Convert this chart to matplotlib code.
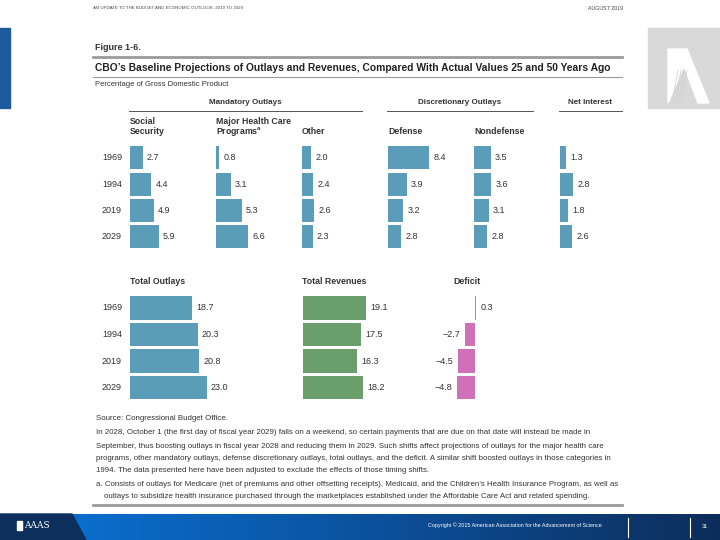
import numpy as np
import matplotlib
matplotlib.use("Agg")
import matplotlib.pyplot as plt
from matplotlib.patches import Rectangle, Polygon

plt.rcParams['font.family'] = ['Liberation Sans', 'DejaVu Sans']

years = ["1969", "1994", "2019", "2029"]

# percentage of GDP
social_security = [2.7, 4.4, 4.9, 5.9]
health_care = [0.8, 3.1, 5.3, 6.6]
other_mandatory = [2.0, 2.4, 2.6, 2.3]
defense = [8.4, 3.9, 3.2, 2.8]
nondefense = [3.5, 3.6, 3.1, 2.8]
net_interest = [1.3, 2.8, 1.8, 2.6]

total_outlays = [18.7, 20.3, 20.8, 23.0]
total_revenues = [19.1, 17.5, 16.3, 18.2]
deficit = [0.3, -2.7, -4.5, -4.8]

BLUE = "#5b9cb9"
GREEN = "#6a9f6b"
PINK = "#cf70b9"
TXT = "#333333"
GRAY = "#9a9a9a"

W, H = 720, 540
fig = plt.figure(figsize=(7.2, 5.4), dpi=100)

# page furniture drawn in pixel coordinates
bg = fig.add_axes([0, 0, 1, 1])
bg.set_xlim(0, W)
bg.set_ylim(H, 0)
bg.axis("off")


def px_axes(x0, y0, w, h):
    return fig.add_axes([x0 / W, 1 - (y0 + h) / H, w / W, h / H])


def bar_panel(x_zero, y_top, pitch, values, color, scale, left=0, width=90):
    ax = px_axes(x_zero - left, y_top, left + width, 4 * pitch)
    ax.set_xlim(-left / scale, width / scale)
    ax.set_ylim(3.5, -0.5)
    ax.barh(range(len(values)), values, height=0.87, color=color)
    for i, v in enumerate(values):
        lab = f"{v:.1f}".replace("-", "\u2212")
        if v >= 0:
            ax.annotate(lab, (v, i), xytext=(3, 0), textcoords="offset points",
                        ha="left", va="center", fontsize=6.5, color=TXT)
        else:
            ax.annotate(lab, (v, i), xytext=(-3, 0), textcoords="offset points",
                        ha="right", va="center", fontsize=6.5, color=TXT)
    ax.axis("off")
    return ax


# header strip
bg.text(93, 8, "AN UPDATE TO THE BUDGET AND ECONOMIC OUTLOOK: 2019 TO 2029",
        fontsize=3.2, color="#444444", va="center")
bg.text(623, 8, "AUGUST 2019", fontsize=3.8, color="#444444", va="center", ha="right")

# side decorations
bg.add_patch(Rectangle((0, 28), 10, 80, color="#1c5c9c"))
bg.add_patch(Rectangle((648, 28), 72, 80, color="#d9d9d9"))
bg.add_patch(Polygon([(668, 49), (687, 49), (709, 103), (698, 103), (684, 66), (668, 103)],
                     closed=True, color="white"))
for k in range(4):
    bg.plot([672 + 3 * k, 678 + 3 * k], [103, 70], color="#cccccc", lw=0.5)

# figure title block
bg.text(95, 47, "Figure 1-6.", fontsize=6.5, fontweight="bold", color=TXT, va="center")
bg.plot([93, 622], [57, 57], color=GRAY, lw=2)
bg.text(95, 68, "CBO\u2019s Baseline Projections of Outlays and Revenues, Compared With Actual Values 25 and 50 Years Ago",
        fontsize=7.4, fontweight="bold", color="#222222", va="center")
bg.plot([93, 622], [77, 77], color=GRAY, lw=0.8)
bg.text(95, 85, "Percentage of Gross Domestic Product", fontsize=5.5, color=TXT, va="center")

# group headers
for label, cx, x1, x2 in [("Mandatory Outlays", 245, 129, 362),
                          ("Discretionary Outlays", 460, 387, 533),
                          ("Net Interest", 590, 559, 622)]:
    bg.text(cx, 103, label, fontsize=5.8, fontweight="bold", color=TXT, ha="center", va="center")
    bg.plot([x1, x2], [111, 111], color="#555555", lw=0.7)

hdr = dict(fontsize=6.3, fontweight="bold", color=TXT, va="center")
bg.text(130, 121, "Social", **hdr)
bg.text(130, 131, "Security", **hdr)
bg.text(216, 121, "Major Health Care", **hdr)
bg.text(216, 131, "Programs$^{\\mathregular{a}}$", **hdr)
bg.text(302, 131, "Other", **hdr)
bg.text(388, 131, "Defense", **hdr)
bg.text(474, 131, "Nondefense", **hdr)

# top panel
top_pitch = 26.4
top_y = 144.5
top_scale = 4.95
top_cols = [social_security, health_care, other_mandatory, defense, nondefense, net_interest]
for k, vals in enumerate(top_cols):
    bar_panel(129.5 + 86 * k, top_y, top_pitch, vals, BLUE, top_scale, width=80)
for i, yr in enumerate(years):
    bg.text(102, top_y + top_pitch * (i + 0.5), yr, fontsize=6.5, color=TXT, va="center")

# bottom panel
bot_pitch = 26.5
bot_y = 294.75
bg.text(130, 282, "Total Outlays", **hdr)
bg.text(302, 282, "Total Revenues", **hdr)
bg.text(467, 282, "Deficit", ha="center", **hdr)
bar_panel(129.5, bot_y, bot_pitch, total_outlays, BLUE, 3.35, width=150)
bar_panel(302.5, bot_y, bot_pitch, total_revenues, GREEN, 3.35, width=150)
bar_panel(475, bot_y, bot_pitch, deficit, PINK, 3.8, left=45, width=40)
for i, yr in enumerate(years):
    bg.text(102, bot_y + bot_pitch * (i + 0.5), yr, fontsize=6.5, color=TXT, va="center")

# notes
notes = [
    (96, 418, "Source: Congressional Budget Office."),
    (96, 433, "In 2028, October 1 (the first day of fiscal year 2029) falls on a weekend, so certain payments that are due on that date will instead be made in"),
    (96, 446, "September, thus boosting outlays in fiscal year 2028 and reducing them in 2029. Such shifts affect projections of outlays for the major health care"),
    (96, 458, "programs, other mandatory outlays, defense discretionary outlays, total outlays, and the deficit. A similar shift boosted outlays in those categories in"),
    (96, 470, "1994. The data presented here have been adjusted to exclude the effects of those timing shifts."),
    (96, 484, "a. Consists of outlays for Medicare (net of premiums and other offsetting receipts), Medicaid, and the Children\u2019s Health Insurance Program, as well as"),
    (104, 496, "outlays to subsidize health insurance purchased through the marketplaces established under the Affordable Care Act and related spending."),
]
for x, y, s in notes:
    bg.text(x, y, s, fontsize=5.7, color=TXT, va="center")
bg.plot([93, 622], [505, 505], color=GRAY, lw=2)

# footer band
grad = np.linspace(0, 1, 256).reshape(1, -1)
cmap = matplotlib.colors.LinearSegmentedColormap.from_list("ft", ["#0a6fcf", "#0b4f9a", "#0d2d5a"])
bg.imshow(grad, extent=[60, 720, 540, 514], aspect="auto", cmap=cmap, zorder=1)
bg.add_patch(Polygon([(0, 514), (72, 514), (86, 540), (0, 540)], closed=True,
                     color="#0d2f5c", zorder=2))
bg.add_patch(Rectangle((17, 521), 5, 9, color="white", zorder=3))
bg.text(24, 526, "AAAS", fontsize=6.5, family="DejaVu Serif", color="white", va="center", zorder=3)
bg.text(428, 525, "Copyright \u00a9 2015 American Association for the Advancement of Science",
        fontsize=3.9, color="white", va="center", zorder=3)
bg.plot([628, 628], [518, 537], color="white", lw=0.8, zorder=3)
bg.plot([690, 690], [518, 537], color="white", lw=0.8, zorder=3)
bg.text(705, 527, "31", fontsize=4, color="white", va="center", ha="center", zorder=3)
bg.set_xlim(0, W)
bg.set_ylim(H, 0)

fig.savefig("out.png", dpi=100)
